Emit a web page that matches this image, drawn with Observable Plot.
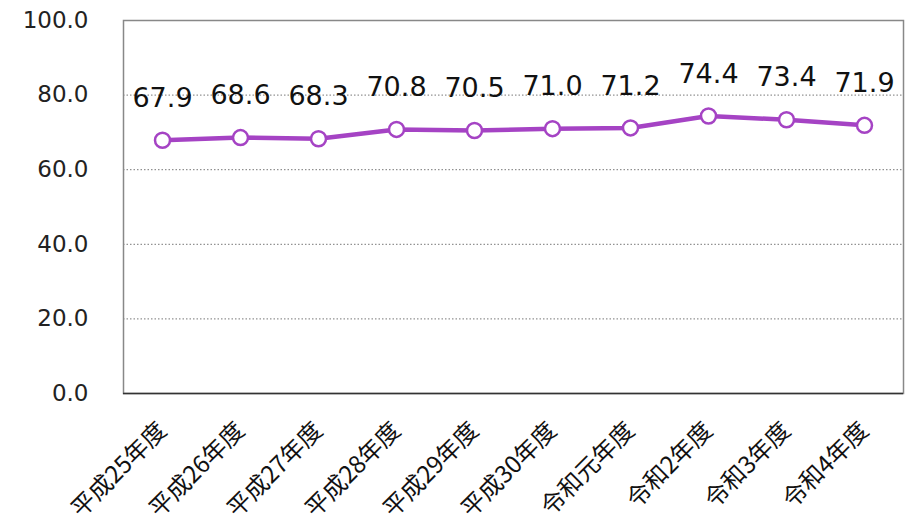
<!DOCTYPE html>
<html>
<head>
<meta charset="utf-8">
<script src="https://cdn.jsdelivr.net/npm/d3@7"></script>
<script src="https://cdn.jsdelivr.net/npm/@observablehq/plot@0.6"></script>
<style>
  html, body { margin: 0; padding: 0; background: #fff; }
  #chart svg { display: block; }
</style>
</head>
<body>
<div id="chart"></div>
<script>
const categories = ["平成25年度","平成26年度","平成27年度","平成28年度","平成29年度","平成30年度","令和元年度","令和2年度","令和3年度","令和4年度"];
const values = [67.9, 68.6, 68.3, 70.8, 70.5, 71.0, 71.2, 74.4, 73.4, 71.9];
const yTicks = [0, 20, 40, 60, 80, 100];
const gridTicks = [20, 40, 60, 80];

const data = categories.map((c, i) => ({cat: c, v: values[i]}));
const purple = "#A543C4";

const chart = Plot.plot({
  width: 908,
  height: 525,
  marginLeft: 123,
  marginRight: 5,
  marginTop: 20,
  marginBottom: 132,
  style: {fontFamily: "'DejaVu Sans', Verdana, sans-serif", color: "#111", background: "#fff"},
  x: {type: "point", domain: categories, padding: 0.5, label: null},
  y: {domain: [0, 100], label: null},
  marks: [
    Plot.ruleY(gridTicks, {stroke: "#777", strokeDasharray: "1.5,2", strokeWidth: 1}),
    Plot.frame({stroke: "#888", strokeWidth: 1.5}),
    Plot.ruleY([0], {stroke: "#333", strokeWidth: 1.5}),
    Plot.axisY({ticks: yTicks, tickSize: 0, tickPadding: 35, tickFormat: d => d.toFixed(1), fontSize: 23, fill: "#222", label: null}),
    Plot.axisX({tickSize: 0, tickRotate: -45, tickPadding: 33, fontSize: 24, fontFamily: "'Noto Sans CJK JP', sans-serif", fill: "#111", label: null}),
    Plot.line(data, {x: "cat", y: "v", stroke: purple, strokeWidth: 4.5}),
    Plot.dot(data, {x: "cat", y: "v", r: 7.5, fill: "white", stroke: purple, strokeWidth: 2.5}),
    Plot.text(data, {x: "cat", y: "v", text: d => d.v.toFixed(1), dy: -42, fontSize: 27, fill: "#111"})
  ]
});
document.getElementById("chart").appendChild(chart);
</script>
</body>
</html>
